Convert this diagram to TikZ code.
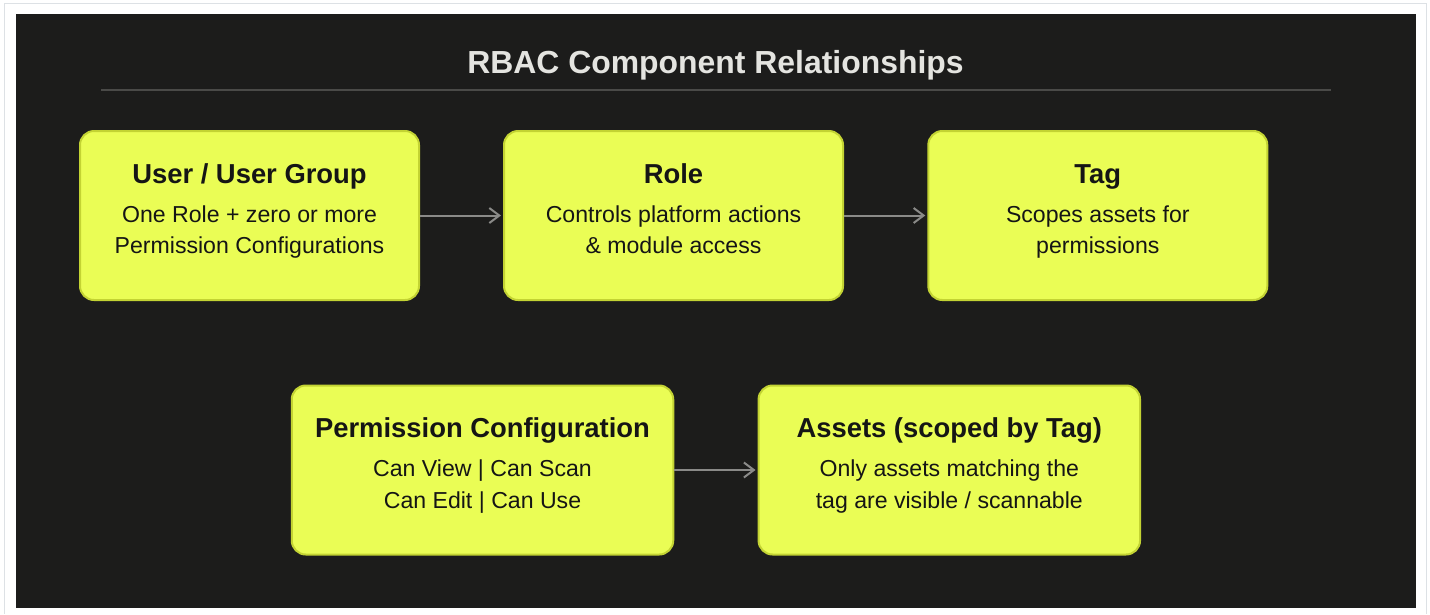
\documentclass[tikz,border=0pt]{standalone}
\usepackage{fontspec}
\setmainfont{Liberation Sans}
\usetikzlibrary{arrows.meta}

\definecolor{framegray}{HTML}{DDE1E5}
\definecolor{panel}{HTML}{1C1C1B}
\definecolor{rulegray}{HTML}{4A4A48}
\definecolor{titlefg}{HTML}{E4E4E0}
\definecolor{cardfill}{HTML}{EAFD55}
\definecolor{cardedge}{HTML}{C3D333}
\definecolor{cardtext}{HTML}{151515}
\definecolor{linkgray}{HTML}{8A8A88}

% one component card: name, x, y, width, heading, first line, second line
\newcommand\compcard[7]{%
  \node[card, minimum width=#4, minimum height=169pt] (#1) at (#2,#3) {};
  \node[cardhead] (#1-head) at ([yshift=32.5pt]#1.center) {#5};
  \node[cardbody] (#1-l1) at ([yshift=-6.5pt]#1.center) {#6};
  \node[cardbody] (#1-l2) at ([yshift=-38pt]#1.center) {#7};
}

\begin{document}
\begin{tikzpicture}[x=1pt,y=-1pt,
  card/.style={draw=cardedge, line width=2pt, fill=cardfill, rounded corners=14pt, inner sep=0pt},
  cardhead/.style={anchor=base, text=cardtext, inner sep=0pt,
    font=\fontsize{27.4}{31}\selectfont\bfseries},
  cardbody/.style={anchor=base, text=cardtext, inner sep=0pt,
    font=\fontsize{23.1}{27}\selectfont},
  heading/.style={anchor=base, text=titlefg, inner sep=0pt,
    font=\fontsize{31.9}{36}\selectfont\bfseries},
  link/.style={draw=linkgray, line width=2pt, shorten >=2pt,
    -{Straight Barb[length=10pt,width=15pt]}}
]
  \useasboundingbox[fill=white] (0,0) rectangle (1430,614);

  % outer frame and dark panel
  \draw[framegray, line width=1.3pt] (4.5,614) -- (4.5,3.5) -- (1426.5,3.5) -- (1426.5,614);
  \fill[panel] (16,14) rectangle (1416,608);

  % heading and rule
  \node[heading] (title) at (715.5,73.3) {RBAC Component Relationships};
  \coordinate (ruleL) at (101,90);
  \coordinate (ruleR) at (1331,90);
  \draw[rulegray, line width=2pt] (ruleL) -- (ruleR);

  % cards
  \compcard{user}{249.5}{215.5}{339pt}{User / User Group}{One Role + zero or more}{Permission Configurations}
  \compcard{role}{673.5}{215.5}{339pt}{Role}{Controls platform actions}{\& module access}
  \compcard{tag}{1097.8}{215.5}{339pt}{Tag}{Scopes assets for}{permissions}
  \compcard{perm}{482.5}{470}{381.5pt}{Permission Configuration}{Can View | Can Scan}{Can Edit | Can Use}
  \compcard{assets}{949.3}{470}{381.5pt}{Assets (scoped by Tag)}{Only assets matching the}{tag are visible / scannable}

  % relationships
  \draw[link] (user.east) -- (role.west);
  \draw[link] (role.east) -- (tag.west);
  \draw[link] (perm.east) -- (assets.west);
\end{tikzpicture}
\end{document}
